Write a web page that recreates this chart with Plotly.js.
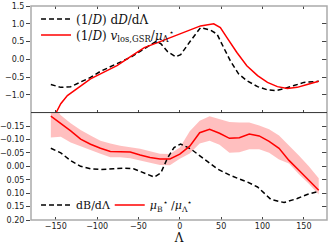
<!DOCTYPE html>
<html>
<head>
<meta charset="utf-8">
<script src="https://cdn.plot.ly/plotly-3.0.1.min.js"></script>
<style>html,body{margin:0;padding:0;background:#fff;}#chart{width:332px;height:250px;}</style>
</head>
<body>
<div id="chart"></div>
<script>
// ---- top panel data ----
var topDashLambda = [-156,-144,-132,-120,-108,-96,-84,-72,-60,-47,-35,-29,-23,-15,-5,1,13,25,37,45,53,61,71,81,94,106,116,126,138,150,168];
var topDashValue  = [-0.71,-0.79,-0.77,-0.65,-0.51,-0.34,-0.21,-0.09,0.05,0.24,0.43,0.50,0.44,0.22,0.07,0.13,0.52,0.89,0.82,0.71,0.33,-0.04,-0.41,-0.60,-0.77,-0.86,-0.88,-0.83,-0.74,-0.65,-0.62];
var topRedLambda  = [-150,-144,-136,-124,-108,-96,-76,-56,-43,-27,-11,1,25,41,49,57,69,81,94,106,118,130,142,154,168];
var topRedValue   = [-1.52,-1.25,-1.02,-0.81,-0.55,-0.41,-0.18,0.13,0.33,0.47,0.61,0.71,0.94,1.00,0.89,0.61,0.19,-0.18,-0.46,-0.65,-0.77,-0.82,-0.79,-0.71,-0.62];

// ---- bottom panel data ----
var botDashLambda = [-156,-144,-132,-120,-108,-96,-80,-68,-56,-43,-31,-23,-15,-7,1,13,29,45,61,82,94,110,126,142,154,168];
var botDashValue  = [-0.067,-0.05,-0.021,0.0,0.009,0.012,0.009,0.007,0.009,0.024,0.04,0.025,-0.03,-0.07,-0.083,-0.065,-0.028,0.009,0.034,0.059,0.077,0.123,0.135,0.12,0.105,0.093];
var botRedLambda  = [-156,-144,-132,-120,-108,-96,-84,-72,-60,-48,-36,-24,-12,0,12,24,36,48,60,72,84,96,108,120,132,144,156,168];
var botRedValue   = [-0.187,-0.160,-0.132,-0.101,-0.082,-0.067,-0.055,-0.054,-0.053,-0.042,-0.033,-0.027,-0.027,-0.045,-0.075,-0.125,-0.138,-0.123,-0.104,-0.106,-0.120,-0.113,-0.093,-0.067,-0.022,0.015,0.052,0.089];
var botBandUpper  = [-0.24,-0.19,-0.16,-0.135,-0.115,-0.095,-0.085,-0.076,-0.071,-0.065,-0.056,-0.047,-0.046,-0.07,-0.13,-0.17,-0.186,-0.176,-0.165,-0.163,-0.163,-0.152,-0.138,-0.115,-0.078,-0.04,0.0,0.045];
var botBandLower  = [-0.107,-0.11,-0.089,-0.075,-0.06,-0.047,-0.034,-0.034,-0.03,-0.021,-0.013,-0.005,-0.004,-0.028,-0.048,-0.085,-0.095,-0.08,-0.05,-0.052,-0.063,-0.063,-0.05,-0.025,-0.01,0.03,0.065,0.105];

var xTicks = [-150,-100,-50,0,50,100,150];
var topTicks = [-1.0,-0.5,0.0,0.5,1.0,1.5];
var topTickText = ['\u22121.0','\u22120.5','0.0','0.5','1.0','1.5'];
var botTicks = [-0.15,-0.10,-0.05,0.00,0.05,0.10,0.15,0.20];
var botTickText = ['\u22120.15','\u22120.10','\u22120.05','0.00','0.05','0.10','0.15','0.20'];

var RED = '#ff0000';
var serif = 'DejaVu Serif, serif';
var sans = 'DejaVu Sans, sans-serif';
var DASH = '5px,3px';

var traces = [
  {x: botRedLambda.concat(botRedLambda.slice().reverse()),
   y: botBandUpper.concat(botBandLower.slice().reverse()),
   xaxis:'x', yaxis:'y', type:'scatter', mode:'lines', fill:'toself',
   fillcolor:'rgba(255,0,0,0.25)', line:{width:0, color:'rgba(0,0,0,0)'}, showlegend:false, hoverinfo:'skip'},
  {x: botDashLambda, y: botDashValue, xaxis:'x', yaxis:'y', type:'scatter', mode:'lines',
   line:{color:'#000', width:1.5, dash:DASH}, name:'dB/dΛ', legend:'legend3'},
  {x: botRedLambda, y: botRedValue, xaxis:'x', yaxis:'y', type:'scatter', mode:'lines',
   line:{color:RED, width:1.5}, name:'<i>μ</i><sub>B</sub><sup>⋆</sup> /<i>μ</i><sub>Λ</sub><sup>⋆</sup>', legend:'legend4'},
  {x: topDashLambda, y: topDashValue, xaxis:'x2', yaxis:'y2', type:'scatter', mode:'lines',
   line:{color:'#000', width:1.5, dash:DASH}, name:'(1/<i>D</i>) d<i>D</i>/dΛ', legend:'legend'},
  {x: topRedLambda, y: topRedValue, xaxis:'x2', yaxis:'y2', type:'scatter', mode:'lines',
   line:{color:RED, width:1.5}, name:'(1/<i>D</i>) <i>v</i><sub>los,GSR</sub>/<i>μ</i><sub>Λ</sub><sup>⋆</sup>', legend:'legend2'},
  // helper empty traces for mirrored tick axes
  {x:[], y:[], xaxis:'x3', yaxis:'y3', showlegend:false, hoverinfo:'skip'},
  {x:[], y:[], xaxis:'x', yaxis:'y4', showlegend:false, hoverinfo:'skip'}
];

var split = 0.502;
var tickCommon = {tickcolor:'#444', tickwidth:1, tickfont:{family:sans, size:8, color:'#222'}, showgrid:false, zeroline:false, showline:false};
function leg(x, y, size) {
  return {x:x, y:y, xanchor:'left', yanchor:'middle', bgcolor:'rgba(0,0,0,0)', borderwidth:0,
          font:{family:serif, size:size, color:'#111'}};
}
// paper y from pixel: plot spans 5..220
function py(p) { return (220 - p) / 215; }

var layout = {
  width:332, height:250,
  margin:{l:31, r:5, t:5, b:30},
  paper_bgcolor:'#fff', plot_bgcolor:'#fff',
  showlegend:true,
  xaxis: Object.assign({}, tickCommon, {anchor:'y', domain:[0,1], range:[-180,178], tickvals:xTicks, ticks:'inside', ticklen:3,
          title:{text:'Λ', font:{family:serif, size:12, color:'#111'}, standoff:2}}),
  yaxis: Object.assign({}, tickCommon, {anchor:'x', domain:[0,split], range:[0.2,-0.2], tickvals:botTicks, ticktext:botTickText, ticks:'outside', ticklen:4}),
  xaxis2: Object.assign({}, tickCommon, {anchor:'y2', domain:[0,1], matches:'x', range:[-180,178], tickvals:xTicks, ticks:'inside', ticklen:3, showticklabels:false}),
  yaxis2: Object.assign({}, tickCommon, {anchor:'x2', domain:[split,1], range:[-1.5,1.5], tickvals:topTicks, ticktext:topTickText, ticks:'outside', ticklen:4}),
  xaxis3: Object.assign({}, tickCommon, {anchor:'y3', overlaying:'x2', side:'top', range:[-180,178], tickvals:xTicks, ticks:'inside', ticklen:3, showticklabels:false}),
  yaxis3: Object.assign({}, tickCommon, {anchor:'x3', overlaying:'y2', side:'right', range:[-1.5,1.5], tickvals:topTicks, ticks:'inside', ticklen:5, showticklabels:false}),
  yaxis4: Object.assign({}, tickCommon, {anchor:'x', overlaying:'y', side:'right', range:[0.2,-0.2], tickvals:botTicks, ticks:'inside', ticklen:5, showticklabels:false}),
  legend:  leg(0.017, py(19), 12),
  legend2: leg(0.017, py(35), 12),
  legend3: leg(0.017, py(205), 11),
  legend4: leg(0.266, py(205), 11),
  shapes:[
    {type:'rect', xref:'paper', yref:'paper', x0:0, x1:1, y0:0, y1:1, line:{color:'#aaa', width:1.5}, layer:'above'},
    {type:'line', xref:'paper', yref:'paper', x0:0, x1:1, y0:split, y1:split, line:{color:'#333', width:1}, layer:'above'}
  ]
};

Plotly.newPlot('chart', traces, layout, {staticPlot:true, displayModeBar:false});
</script>
</body>
</html>
